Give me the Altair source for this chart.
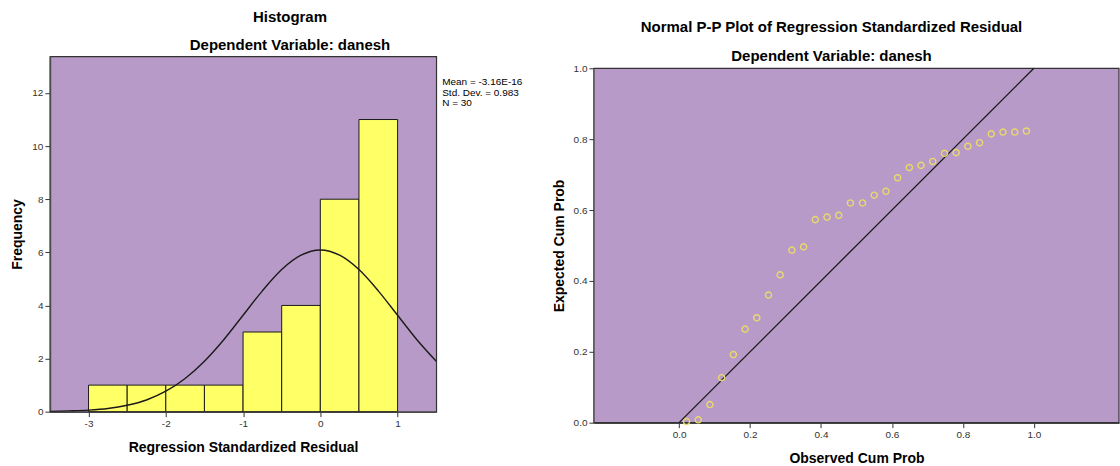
import altair as alt
import pandas as pd

FONT = "Liberation Sans"
BG = "#B79AC8"
FRAME = "#333333"

# ---------------- Histogram data ----------------
bin_start = [-3.0, -2.5, -2.0, -1.5, -1.0, -0.5, 0.0, 0.5]
bin_end = [-2.5, -2.0, -1.5, -1.0, -0.5, 0.0, 0.5, 1.0]
freq = [1, 1, 1, 1, 3, 4, 8, 11]

# normal curve
curve_x = [-3.5, -3.25, -3.0, -2.75, -2.5, -2.25, -2.0, -1.75, -1.5, -1.25, -1.0,
           -0.75, -0.5, -0.25, 0.0, 0.25, 0.5, 0.75, 1.0, 1.25, 1.5]
curve_y = [0.01, 0.03, 0.06, 0.12, 0.24, 0.44, 0.77, 1.25, 1.90, 2.71, 3.63,
           4.55, 5.35, 5.89, 6.09, 5.89, 5.35, 4.55, 3.63, 2.71, 1.90]

stats_lines = ["Mean = -3.16E-16", "Std. Dev. = 0.983", "N = 30"]

hist_x_ticks = [-3, -2, -1, 0, 1]
hist_y_ticks = [0, 2, 4, 6, 8, 10, 12]

# ---------------- P-P plot data ----------------
obs_cum = [0.021, 0.054, 0.087, 0.120, 0.153, 0.186, 0.219, 0.252, 0.285, 0.318,
           0.351, 0.384, 0.417, 0.450, 0.483, 0.517, 0.550, 0.583, 0.616, 0.649,
           0.682, 0.715, 0.748, 0.781, 0.814, 0.847, 0.880, 0.913, 0.946, 0.979]
exp_cum = [0.003, 0.008, 0.051, 0.127, 0.192, 0.264, 0.296, 0.360, 0.417, 0.487,
           0.496, 0.573, 0.580, 0.585, 0.620, 0.620, 0.642, 0.653, 0.691, 0.720,
           0.726, 0.737, 0.760, 0.762, 0.780, 0.790, 0.815, 0.820, 0.820, 0.823]
diag_x = [0.0, 1.0]
diag_y = [0.0, 1.0]
pp_ticks = [0.0, 0.2, 0.4, 0.6, 0.8, 1.0]

left_title = "Histogram"
right_title = "Normal P-P Plot of Regression Standardized Residual"
sub_title = "Dependent Variable: danesh"

bars_df = pd.DataFrame({"start": bin_start, "end": bin_end, "freq": freq})
curve_df = pd.DataFrame({"x": curve_x, "y": curve_y})
pp_df = pd.DataFrame({"obs": obs_cum, "exp": exp_cum})
diag_df = pd.DataFrame({"x": diag_x, "y": diag_y})
one_df = pd.DataFrame({"a": [0]})

axis_common = dict(
    grid=False, tickSize=5, tickColor="#333333", tickWidth=1,
    domainColor="#4a4a4a", domainWidth=1.6,
    labelFont=FONT, labelFontSize=10, labelColor="#333333", labelPadding=2,
    titleFont=FONT, titleFontSize=14, titleFontWeight="bold", titleColor="#000000",
    labelFlush=False,
)


def title_text(txt, x, y):
    return alt.Chart(one_df).mark_text(
        text=txt, font=FONT, fontSize=15, fontWeight="bold", color="#000000",
        align="center", baseline="middle",
    ).encode(x=alt.value(x), y=alt.value(y))


# ---------------- Left chart ----------------
hx = alt.Scale(domain=[-3.5, 1.5], nice=False, zero=False)
hy = alt.Scale(domain=[0, 13.38], nice=False)

x_axis_h = alt.Axis(values=hist_x_ticks, labelExpr="'' + datum.value",
                    title="Regression Standardized Residual", titlePadding=12, **axis_common)
y_axis_h = alt.Axis(values=hist_y_ticks, format="d", title="Frequency",
                    titlePadding=7, **axis_common)

bars = alt.Chart(bars_df).mark_rect(fill="#FFFF66", stroke="#1a1a1a", strokeWidth=1).encode(
    x=alt.X("start:Q", scale=hx, axis=x_axis_h),
    x2="end:Q",
    y=alt.Y("freq:Q", scale=hy, axis=y_axis_h),
    y2=alt.datum(0),
)

curve = alt.Chart(curve_df).mark_line(color="#1a1a1a", strokeWidth=1.4,
                                      interpolate="monotone", clip=True).encode(
    x=alt.X("x:Q", scale=hx),
    y=alt.Y("y:Q", scale=hy),
)

stats = alt.Chart(one_df).mark_text(
    text=stats_lines, align="left", baseline="top", font=FONT, fontSize=10,
    lineHeight=10.5, color="#000000",
).encode(x=alt.value(393), y=alt.value(21))

left = alt.layer(
    bars, curve, stats,
    title_text(left_title, 240.5, -39),
    title_text(sub_title, 240.5, -11),
).properties(
    width=387, height=356,
    view=alt.ViewBackground(fill=BG, stroke=FRAME, strokeWidth=1.2),
)

# ---------------- Right chart ----------------
# the P-P panel sits 12 px lower than the histogram panel
R_TOP = 12
R_H = 367
px = alt.Scale(domain=[-0.24, 1.24], nice=False, zero=False)
py = alt.Scale(domain=[0, 1], nice=False, range=[R_H, R_TOP])

x_axis_p = alt.Axis(values=pp_ticks, format=".1f", title="Observed Cum Prob",
                    titlePadding=12, **axis_common)
y_axis_p = alt.Axis(values=pp_ticks, format=".1f", title="Expected Cum Prob",
                    titlePadding=7, **axis_common)

panel_bg = alt.Chart(one_df).mark_rect(fill=BG, stroke=FRAME, strokeWidth=1.2).encode(
    x=alt.value(0), x2=alt.value(526), y=alt.value(R_TOP), y2=alt.value(R_H)
)

diag = alt.Chart(diag_df).mark_line(color="#1a1a1a", strokeWidth=1.3).encode(
    x=alt.X("x:Q", scale=px, axis=x_axis_p),
    y=alt.Y("y:Q", scale=py, axis=y_axis_p),
)

pts = alt.Chart(pp_df).mark_point(shape="circle", filled=False, size=38,
                                  strokeWidth=1.4, color="#E9D96A", opacity=1).encode(
    x=alt.X("obs:Q", scale=px),
    y=alt.Y("exp:Q", scale=py),
)

right = alt.layer(
    panel_bg, diag, pts,
    title_text(right_title, 238, R_TOP - 41),
    title_text(sub_title, 238, R_TOP - 12.3),
).properties(
    width=526, height=R_H,
    view=alt.ViewBackground(fill="#FFFFFF", fillOpacity=0, strokeOpacity=0),
)

chart = alt.hconcat(left, right, spacing=29).properties(
    padding={"left": 10, "top": 9, "right": 0, "bottom": 0},
    background="#FFFFFF",
)

chart.save("out.html", embed_options={"renderer": "svg", "actions": False})
